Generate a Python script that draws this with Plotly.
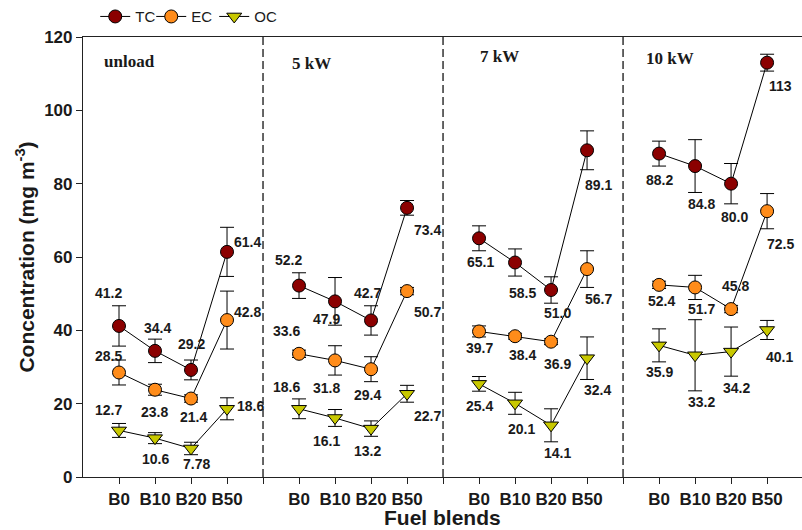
import plotly.graph_objects as go

# ---------------- data ----------------
loads = ["unload", "5 kW", "7 kW", "10 kW"]
blends = ["B0", "B10", "B20", "B50"]

tc = [[41.2, 34.4, 29.2, 61.4], [52.2, 47.9, 42.7, 73.4],
      [65.1, 58.5, 51.0, 89.1], [88.2, 84.8, 80.0, 113]]
ec = [[28.5, 23.8, 21.4, 42.8], [33.6, 31.8, 29.4, 50.7],
      [39.7, 38.4, 36.9, 56.7], [52.4, 51.7, 45.8, 72.5]]
oc = [[12.7, 10.6, 7.78, 18.6], [18.6, 16.1, 13.2, 22.7],
      [25.4, 20.1, 14.1, 32.4], [35.9, 33.2, 34.2, 40.1]]

tc_err = [[5.5, 3.2, 2.7, 6.7], [3.5, 6.5, 4.0, 2.0],
          [3.4, 3.7, 3.6, 5.3], [3.4, 7.2, 5.5, 2.3]]
ec_err = [[3.4, 1.5, 1.0, 7.9], [1.0, 4.0, 3.4, 1.0],
          [1.5, 0.8, 0.8, 5.0], [1.0, 3.3, 1.0, 4.8]]
oc_err = [[1.9, 1.5, 1.7, 3.0], [2.7, 2.3, 2.1, 2.3],
          [2.0, 3.0, 4.5, 5.8], [4.5, 9.7, 6.7, 2.6]]

# ---------------- label offsets (px, dx right / dy down) ----------------
tc_off = [[(-11, -33), (2, -23), (0, -26), (20, -10)],
          [(-11, -26), (-9, 18), (-4, -27), (20, 22)],
          [(1, 24), (7, 30), (6, 23), (11, 35)],
          [(0, 26), (6, 38), (3, 33), (13, 23)]]
ec_off = [[(-11, -17), (-1, 22), (2, 18), (20, -8)],
          [(-13, -23), (-9, 28), (-4, 26), (20, 21)],
          [(0, 17), (7, 19), (6, 22), (11, 30)],
          [(2, 16), (6, 22), (4, -23), (13, 33)]]
oc_off = [[(-11, -20), (0, 21), (5, 16), (23, -3)],
          [(-13, -22), (-9, 23), (-4, 22), (20, 22)],
          [(0, 22), (6, 26), (6, 28), (10, 32)],
          [(0, 27), (6, 47), (5, 36), (12, 27)]]

PLOT_TOP, PLOT_BOTTOM = 37, 477
PLOT_H = PLOT_BOTTOM - PLOT_TOP


def xpos(i, j):
    return 5 * i + j + 1


def fmt(v):
    s = "%#.3g" % v
    return s.rstrip(".")


def flat(series):
    xs, ys = [], []
    for i, row in enumerate(series):
        for j, v in enumerate(row):
            xs.append(xpos(i, j))
            ys.append(v)
        xs.append(None)
        ys.append(None)
    return xs, ys


def py(px):
    return (PLOT_BOTTOM - px) / PLOT_H


fig = go.Figure()
styles = [
    ("TC", tc, tc_err, "#8B0000", "circle", 13, tc_off, 11),
    ("EC", ec, ec_err, "#FF8C1A", "circle", 13, ec_off, 18),
    ("OC", oc, oc_err, "#C8C800", "triangle-down", 13, oc_off, 30),
]

annotations = []
for name, vals, errs, col, sym, size, offs, lw in styles:
    xs, ys = flat(vals)
    _, es = flat(errs)
    fig.add_trace(go.Scatter(
        x=xs, y=ys, name=name, mode="lines+markers",
        legendwidth=lw,
        line=dict(color="black", width=1),
        marker=dict(color=col, symbol=sym, size=size,
                    line=dict(color="black", width=1)),
        error_y=dict(type="data", array=es, visible=True,
                     color="black", thickness=1, width=7),
    ))
    for i in range(4):
        for j in range(4):
            dx, dy = offs[i][j]
            annotations.append(dict(
                x=xpos(i, j), y=vals[i][j], xref="x", yref="y",
                text=fmt(vals[i][j]), showarrow=False,
                xanchor="center", yanchor="middle",
                xshift=dx, yshift=-dy,
                font=dict(family="Arial", size=14, color="#1a1a1a", weight="bold"),
            ))

# panel titles
title_pos = [(1.28, 62), (6.35, 63), (11.56, 57), (16.29, 58)]
for (tx, ty), lab in zip(title_pos, loads):
    annotations.append(dict(
        x=tx, y=py(ty), xref="x", yref="paper",
        xanchor="center", yanchor="middle",
        text="<b>%s</b>" % lab, showarrow=False,
        font=dict(family="Liberation Serif", size=17, color="#1a1a1a"),
    ))

# x-axis title
annotations.append(dict(
    x=0.5, y=py(530), xref="paper", yref="paper",
    xanchor="center", yanchor="bottom", showarrow=False,
    text="<b>Fuel blends</b>", borderpad=0,
    font=dict(family="Arial", size=21, color="#1a1a1a"),
))

# divider lines
shapes = []
for i in range(1, 4):
    shapes.append(dict(type="line", xref="x", yref="paper",
                       x0=5 * i, x1=5 * i, y0=0, y1=1,
                       line=dict(color="#333333", width=1.5, dash="8px,4px")))

tickvals, ticktext = [], []
for i in range(4):
    for j, b in enumerate(blends):
        tickvals.append(xpos(i, j))
        ticktext.append(b)
    if i < 3:
        tickvals.append(5 * (i + 1))
        ticktext.append("")

fig.update_layout(
    width=802, height=530,
    margin=dict(l=83, r=0, t=PLOT_TOP, b=530 - PLOT_BOTTOM),
    plot_bgcolor="white", paper_bgcolor="white",
    font=dict(family="Arial", color="#1a1a1a"),
    showlegend=True,
    legend=dict(orientation="h", x=0.017, y=py(16.7), xanchor="left",
                yanchor="middle", font=dict(size=15, family="Arial"),
                bgcolor="rgba(0,0,0,0)", entrywidthmode="pixels"),
    xaxis=dict(range=[0, 19.97], tickvals=tickvals, ticktext=ticktext,
               showline=True, linecolor="#222", linewidth=1.2, mirror=True,
               ticks="outside", ticklen=6, tickcolor="#222",
               showgrid=False, zeroline=False,
               tickfont=dict(size=17, family="Arial", weight="bold")),
    yaxis=dict(range=[0, 120], tickvals=[0, 20, 40, 60, 80, 100, 120],
               showline=True, linecolor="#222", linewidth=1.2,
               ticks="outside", ticklen=6, tickcolor="#222",
               showgrid=False, zeroline=False,
               tickfont=dict(size=17, family="Arial", weight="bold"),
               title=dict(text="<b>Concentration (mg m<sup>-3</sup>)</b>",
                          font=dict(size=21), standoff=3)),
    annotations=annotations,
    shapes=shapes,
)

fig.write_html("out.html")
